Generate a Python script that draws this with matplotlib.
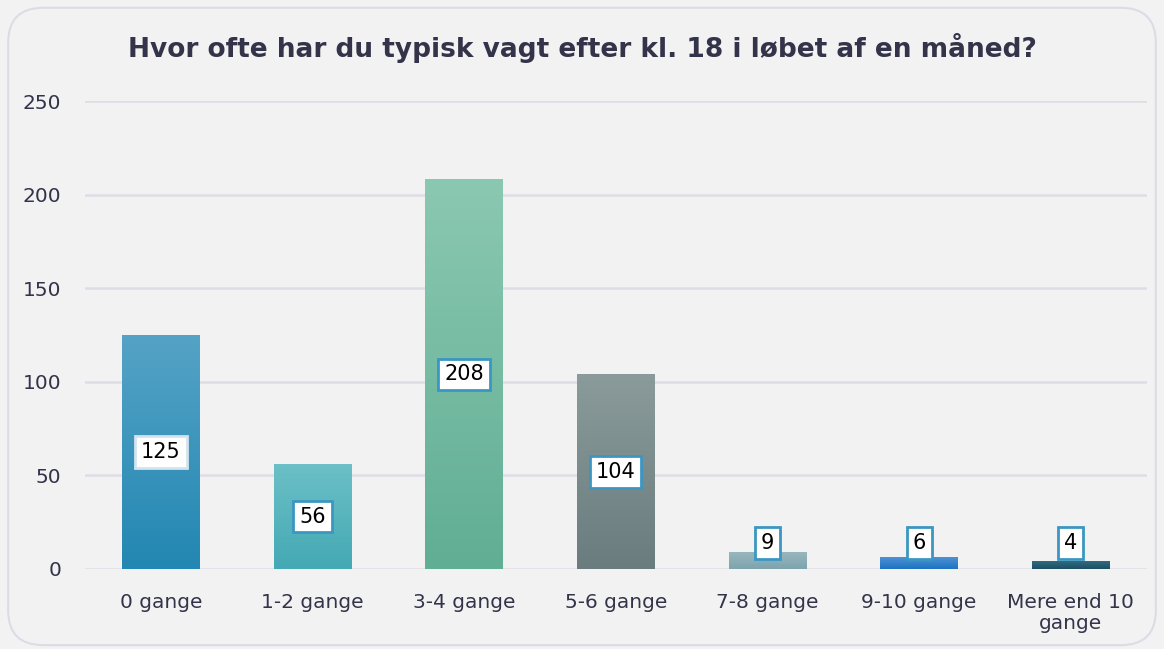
import numpy as np
import matplotlib.pyplot as plt
from matplotlib.colors import LinearSegmentedColormap
from matplotlib.patches import FancyBboxPatch

# Data
categories = ["0 gange", "1-2 gange", "3-4 gange", "5-6 gange", "7-8 gange", "9-10 gange", "Mere end 10\ngange"]
values = [125, 56, 208, 104, 9, 6, 4]
top_colors = ["#55a3c6", "#6cc0c7", "#8bc8b1", "#8b9b9b", "#98b6bd", "#4d92d8", "#2f6c82"]
bottom_colors = ["#2287b2", "#44a9b4", "#60ae94", "#6a7c7e", "#7ea4ad", "#1e72bf", "#1d4e61"]
yticks = [0, 50, 100, 150, 200, 250]

bg = "#f2f2f2"
text_col = "#33334a"

fig = plt.figure(figsize=(11.64, 6.49), dpi=100, facecolor=bg)

# rounded frame round the whole chart
frame = FancyBboxPatch((0.007, 0.006), 0.986, 0.982, boxstyle="round,pad=0,rounding_size=0.03",
                       transform=fig.transFigure, facecolor="none", edgecolor="#dcdce6",
                       linewidth=1.5, mutation_aspect=1164 / 649, zorder=5)
fig.patches.append(frame)

ax = fig.add_axes([0.073, 0.1233, 0.912, 0.7207])
ax.set_facecolor(bg)

x = np.arange(len(categories))
width = 0.51

# bars with a vertical gradient
for i, v in enumerate(values):
    cmap = LinearSegmentedColormap.from_list("g", [bottom_colors[i], top_colors[i]])
    grad = np.linspace(0, 1, 256).reshape(-1, 1)
    ax.imshow(grad, cmap=cmap, origin="lower", aspect="auto",
              extent=(x[i] - width / 2, x[i] + width / 2, 0, v), zorder=2)

# value labels
for i, v in enumerate(values):
    edge = "#d4e4ee" if i == 0 else "#3b97c2"
    ax.text(x[i], max(v / 2, 14), str(v), ha="center", va="center", fontsize=15,
            color="black", zorder=4,
            bbox=dict(boxstyle="square,pad=0.28", facecolor="white", edgecolor=edge, linewidth=2))

ax.set_xlim(-0.5, len(categories) - 0.5)
ax.set_ylim(0, 250)
ax.set_yticks(yticks)
ax.set_xticks(x)
ax.set_xticklabels(categories, fontsize=14.5, color=text_col, linespacing=1.15)
ax.tick_params(axis="y", labelsize=14.5, labelcolor=text_col, length=0, pad=17)
ax.tick_params(axis="x", length=0, pad=17)
ax.grid(axis="y", color="#dedde6", linewidth=1.8, zorder=0)
ax.set_axisbelow(True)
for s in ax.spines.values():
    s.set_visible(False)

fig.text(0.5, 0.926, "Hvor ofte har du typisk vagt efter kl. 18 i løbet af en måned?",
         ha="center", va="center", fontsize=19, fontweight="bold", color=text_col)

fig.savefig("out.png", dpi=100, facecolor=bg)
